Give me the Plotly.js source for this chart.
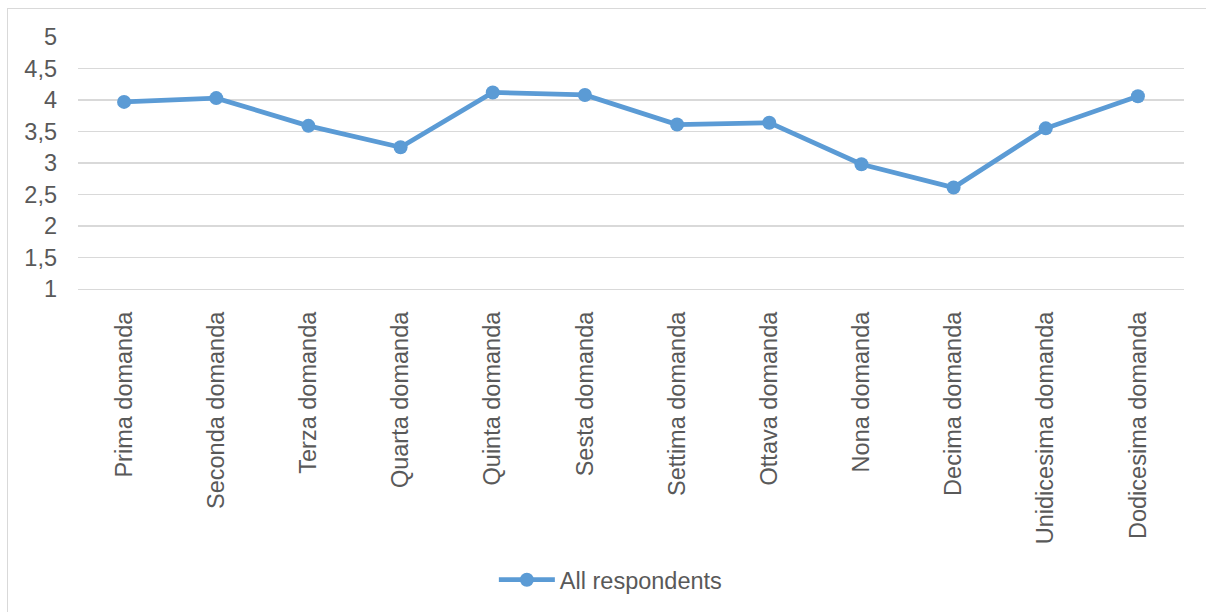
<!DOCTYPE html>
<html>
<head>
<meta charset="utf-8">
<script src="https://cdn.plot.ly/plotly-3.0.1.min.js"></script>
<style>
  html, body { margin: 0; padding: 0; background: #ffffff; }
  #chart { width: 1206px; height: 612px; position: absolute; left: 0; top: 0; }
  #frame { position: absolute; left: 7px; top: 8px; width: 1220px; height: 640px;
           border: 1px solid #d9d9d9; pointer-events: none; box-sizing: border-box; }
</style>
</head>
<body>
<div id="chart"></div>
<div id="frame"></div>
<script>
const categories = [
  "Prima domanda", "Seconda domanda", "Terza domanda", "Quarta domanda",
  "Quinta domanda", "Sesta domanda", "Settima domanda", "Ottava domanda",
  "Nona domanda", "Decima domanda", "Unidicesima domanda", "Dodicesima domanda"
];
const allRespondents = [3.97, 4.03, 3.59, 3.25, 4.12, 4.08, 3.61, 3.64, 2.98, 2.61, 3.55, 4.06];
const seriesName = "All respondents";
const yTicks = [1, 1.5, 2, 2.5, 3, 3.5, 4, 4.5, 5];

const blue = "#5B9BD5";
const grey = "#595959";
const font = "Arial, 'Liberation Sans', sans-serif";
const fsize = 23.5;

const trace = {
  type: "scatter",
  mode: "lines+markers",
  x: categories,
  y: allRespondents,
  name: seriesName,
  line: { color: blue, width: 4.8 },
  marker: { color: blue, size: 14 },
  showlegend: true
};

const layout = {
  width: 1206,
  height: 612,
  margin: { l: 78, r: 22, t: 37, b: 322 },
  paper_bgcolor: "rgba(0,0,0,0)",
  plot_bgcolor: "rgba(0,0,0,0)",
  separators: ", ",
  font: { family: font, size: fsize, color: grey },
  showlegend: true,
  xaxis: {
    type: "category",
    range: [-0.5, categories.length - 0.5],
    tickangle: -90,
    showgrid: false,
    showline: true,
    linecolor: "#d9d9d9",
    linewidth: 1.3,
    ticks: "",
    ticklabelstandoff: 12,
    tickfont: { family: font, size: fsize, color: grey },
    zeroline: false,
    fixedrange: true
  },
  yaxis: {
    range: [1, 5],
    tickvals: yTicks,
    showgrid: true,
    gridcolor: "#d9d9d9",
    gridwidth: 1.3,
    showline: false,
    zeroline: false,
    ticks: "",
    ticklabelstandoff: 20,
    tickfont: { family: font, size: fsize, color: grey },
    fixedrange: true
  },
  legend: {
    orientation: "h",
    x: 0.376,
    xanchor: "left",
    y: -1.146,
    yanchor: "middle",
    itemwidth: 56,
    font: { family: font, size: fsize, color: grey },
    bgcolor: "rgba(0,0,0,0)"
  }
};

Plotly.newPlot("chart", [trace], layout, { displayModeBar: false, staticPlot: true });
</script>
</body>
</html>
